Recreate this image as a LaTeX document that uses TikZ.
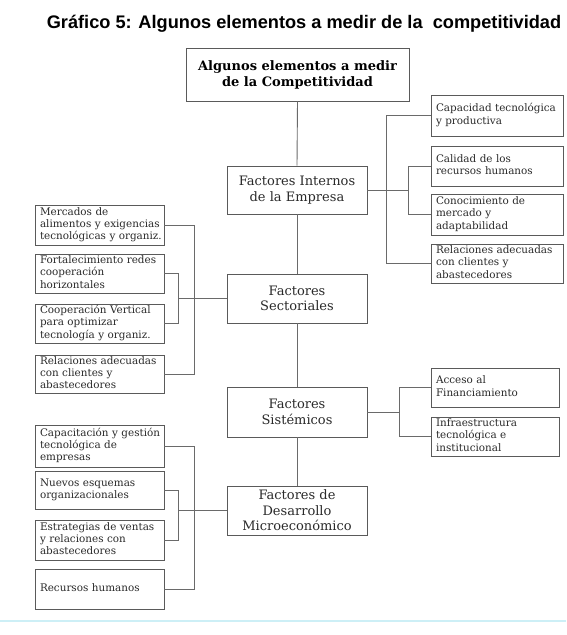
\documentclass[tikz,border=0pt]{standalone}
\usepackage{fontspec}
\setmainfont{DejaVu Serif}
\newfontfamily\titlefont{Liberation Sans}
\definecolor{boxline}{HTML}{5A5A5A}
\definecolor{conline}{HTML}{6A6A6A}
\definecolor{txt}{HTML}{2A2A2A}
\definecolor{cyanline}{HTML}{CDEFF6}
\newcommand\bxl[1]{\begin{tabular}{@{}l@{}}#1\end{tabular}}
\begin{document}
\begin{tikzpicture}[x=1pt,y=-1pt,
  mainbox/.style={draw=boxline,line width=0.9pt,fill=white,align=center,text=txt,
    font=\fontsize{13}{15.5}\selectfont,inner sep=0pt,minimum width=140pt},
  topbox/.style={draw=boxline,line width=0.9pt,fill=white,align=center,text=black,
    font=\fontsize{13}{16}\selectfont\bfseries,inner sep=0pt,minimum width=223pt,minimum height=53pt},
  sbox/.style={draw=boxline,line width=0.9pt,fill=white,align=left,text=txt,
    font=\fontsize{10.4}{12.4}\selectfont,inner sep=0pt,text width=#1-10pt,minimum width=#1,inner xsep=5pt},
  sbox/.default=129pt,
  con/.style={draw=conline,line width=0.9pt}]
\useasboundingbox (0,0) rectangle (566,635);
% title
\node[font=\titlefont\bfseries\fontsize{18.2}{20}\selectfont,text=black] (title) at (304,23.5)
  {Gráfico 5: Algunos elementos a medir de la\ \ competitividad};
% spine
\node[topbox] (top) at (297.5,74.5) {Algunos elementos a medir\\de la Competitividad};
\node[mainbox,minimum height=48pt] (int) at (297,190) {Factores Internos\\de la Empresa};
\node[mainbox,minimum height=49pt] (sec) at (297,298.5) {Factores\\Sectoriales};
\node[mainbox,minimum height=50pt] (sis) at (297,412) {Factores\\Sistémicos};
\node[mainbox,minimum height=49pt] (des) at (297,510.5) {Factores de\\Desarrollo\\Microeconómico};
\draw[con] (top.south) -- (int.north);
\draw[con] (int.south) -- (sec.north);
\draw[con] (sec.south) -- (sis.north);
\draw[con] (sis.south) -- (des.north);
% right group of internos
\node[sbox=132pt,minimum height=41pt] (r1) at (497,115.5) {\bxl{Capacidad tecnológica\\y productiva}};
\node[sbox=132pt,minimum height=40pt] (r2) at (497,166) {\bxl{Calidad de los\\recursos humanos}};
\node[sbox=132pt,minimum height=41pt] (r3) at (497,214.5) {\bxl{Conocimiento de\\mercado y\\adaptabilidad}};
\node[sbox=132pt,minimum height=39pt] (r4) at (497,263.5) {\bxl{Relaciones adecuadas\\con clientes y\\abastecedores}};
\draw[con] (r1.west) -- ++(-44,0) |- (r4.west);
\draw[con] (r2.west) -- ++(-22,0) |- (r3.west);
\coordinate (ib) at (409,190);
\draw[con] (int.east) -- (ib);
% left group of sectoriales
\node[sbox,minimum height=40pt] (l1) at (99.5,225) {\bxl{Mercados de\\alimentos y exigencias\\tecnológicas y organiz.}};
\node[sbox,minimum height=39pt] (l2) at (99.5,273.5) {\bxl{Fortalecimiento redes\\cooperación\\horizontales}};
\node[sbox,minimum height=39pt] (l3) at (99.5,323.5) {\bxl{Cooperación Vertical\\para optimizar\\tecnología y organiz.}};
\node[sbox,minimum height=38pt] (l4) at (99.5,374) {\bxl{Relaciones adecuadas\\con clientes y\\abastecedores}};
\draw[con] (l1.east) -- ++(30,0) |- (l4.east);
\draw[con] (l2.east) -- ++(14,0) |- (l3.east);
\coordinate (sb) at (178,298.5);
\draw[con] (sec.west) -- (sb);
% right group of sistemicos
\node[sbox=128pt,minimum height=39pt] (r5) at (495,387.5) {\bxl{Acceso al\\Financiamiento}};
\node[sbox=128pt,minimum height=39pt] (r6) at (495,436.5) {\bxl{Infraestructura\\tecnológica e\\institucional}};
\draw[con] (r5.west) -- ++(-31,0) |- (r6.west);
\coordinate (syb) at (400,412);
\draw[con] (sis.east) -- (syb);
% left group of desarrollo
\node[sbox,minimum height=42pt] (d1) at (99.5,446) {\bxl{Capacitación y gestión\\tecnológica de\\empresas}};
\node[sbox,minimum height=38pt] (d2) at (99.5,490) {\bxl{Nuevos esquemas\\organizacionales}};
\node[sbox,minimum height=40pt] (d3) at (99.5,540) {\bxl{Estrategias de ventas\\y relaciones con\\abastecedores}};
\node[sbox,minimum height=40pt] (d4) at (99.5,589) {\bxl{Recursos humanos}};
\draw[con] (d1.east) -- ++(30,0) |- (d4.east);
\draw[con] (d2.east) -- ++(14,0) |- (d3.east);
\coordinate (db) at (178,510.5);
\draw[con] (des.west) -- (db);
% bottom band
\draw[cyanline,line width=1.6pt] (0,621) -- (566,621);
\end{tikzpicture}
\end{document}
